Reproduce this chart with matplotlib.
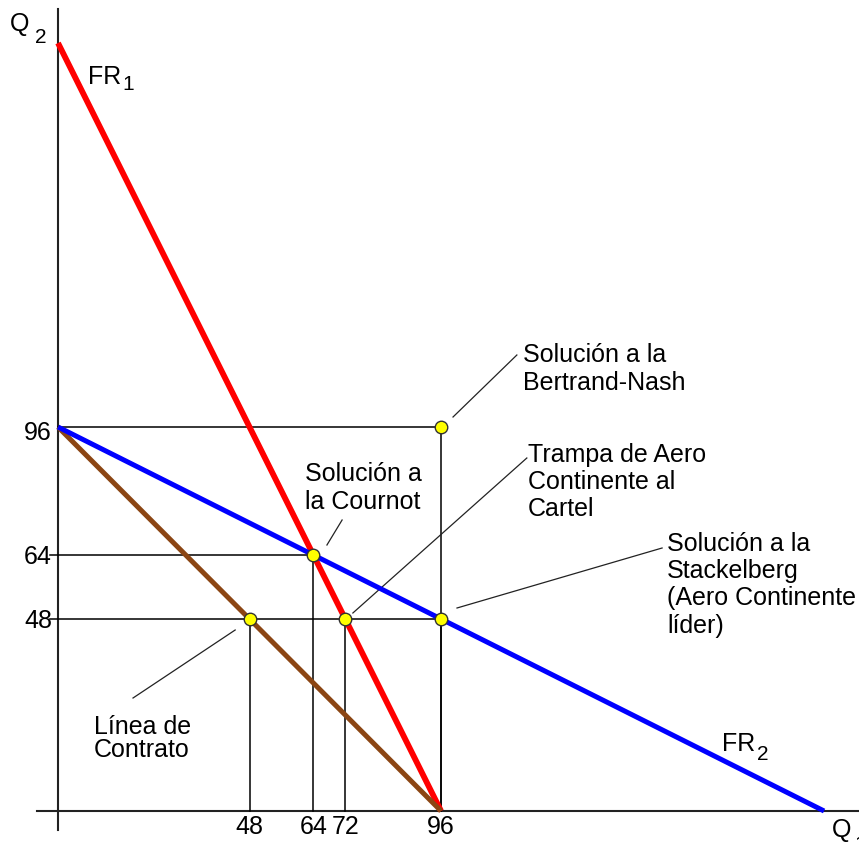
import matplotlib.pyplot as plt

plt.rcParams['font.family'] = ['Liberation Sans', 'DejaVu Sans']

# Reaction functions and contract line (end points, in units of Q1 and Q2)
fr1_q1 = [0, 96]
fr1_q2 = [192, 0]
fr2_q1 = [0, 192]
fr2_q2 = [96, 0]
contract_q1 = [0, 96]
contract_q2 = [96, 0]

# Equilibrium points
point_names = ['Bertrand', 'Cournot', 'Trampa', 'Stackelberg', 'Contrato']
point_q1 = [96, 64, 72, 96, 48]
point_q2 = [96, 64, 48, 48, 48]

x_ticks = [48, 64, 72, 96]
y_ticks = [96, 64, 48]

fig = plt.figure(figsize=(8.59, 8.48), dpi=100)
ax = fig.add_axes([0, 0, 1, 1])
ax.set_xlim(-14.54, 200.75)
ax.set_ylim(-9.25, 202.75)
ax.axis('off')

# Axes
ax.plot([-5.3, 200.75], [0, 0], color='#222222', lw=1.5, zorder=1)
ax.plot([0, 0], [-4.75, 200.5], color='#222222', lw=1.5, zorder=1)

# Guide lines from each point to the axes
guide = dict(color='black', lw=1.1, zorder=1)
for q1, q2 in zip(point_q1, point_q2):
    ax.plot([q1, q1], [0, q2], **guide)
ax.plot([0, 96], [96, 96], **guide)
ax.plot([-2, 64], [64, 64], **guide)
ax.plot([-2, 96], [48, 48], **guide)

ax.plot(fr1_q1, fr1_q2, color='#ff0000', lw=4.2, solid_capstyle='butt', zorder=2)
ax.plot(contract_q1, contract_q2, color='#8B4513', lw=3.6, solid_capstyle='butt', zorder=3)
ax.plot(fr2_q1, fr2_q2, color='#0000ff', lw=3.6, solid_capstyle='butt', zorder=4)

ax.plot(point_q1, point_q2, 'o', ms=9, mfc='#ffff00', mec='#333333', mew=1.0,
        ls='none', zorder=5)

# Tick labels
fs = 18
for v in y_ticks:
    off = 3.25 if v == 96 else 2.2
    ax.text(-5.0, v - off, str(v), ha='center', va='baseline', fontsize=fs)
for v in x_ticks:
    ax.text(v, -5.75, str(v), ha='center', va='baseline', fontsize=fs)

# Axis and curve names with subscripts
def sub_label(x, y, main, sx, sy, sub):
    ax.text(x, y, main, ha='left', va='top', fontsize=fs)
    ax.text(sx, sy, sub, ha='left', va='top', fontsize=15)

sub_label(-12.0, 199.75, 'Q', -5.8, 195.75, '2')
sub_label(194.0, -1.75, 'Q', 199.7, -6.0, '1')
sub_label(7.5, 186.5, 'FR', 16.2, 184.0, '1')
sub_label(166.4, 19.75, 'FR', 175.2, 16.5, '2')

# Callout labels and their leader lines
labels = [
    (116.5, 117.0, 'Solución a la\nBertrand-Nash', 1.2),
    (117.8, 92.0, 'Trampa de Aero\nContinente al\nCartel', 1.15),
    (61.9, 87.25, 'Solución a\nla Cournot', 1.2),
    (152.6, 69.75, 'Solución a la\nStackelberg\n(Aero Continente\nlíder)', 1.17),
    (9.0, 24.0, 'Línea de\nContrato', 0.95),
]
for x, y, txt, ls in labels:
    ax.text(x, y, txt, ha='left', va='top', fontsize=fs, linespacing=ls)

leaders = [
    ((99.0, 98.5), (115.0, 114.0)),
    ((67.4, 66.5), (71.2, 72.75)),
    ((73.9, 49.5), (117.5, 88.25)),
    ((100.0, 50.75), (151.4, 65.75)),
    ((44.4, 45.25), (18.8, 28.25)),
]
for (x0, y0), (x1, y1) in leaders:
    ax.plot([x0, x1], [y0, y1], color='#222222', lw=0.9, zorder=1)

fig.savefig('out.png', dpi=100)
